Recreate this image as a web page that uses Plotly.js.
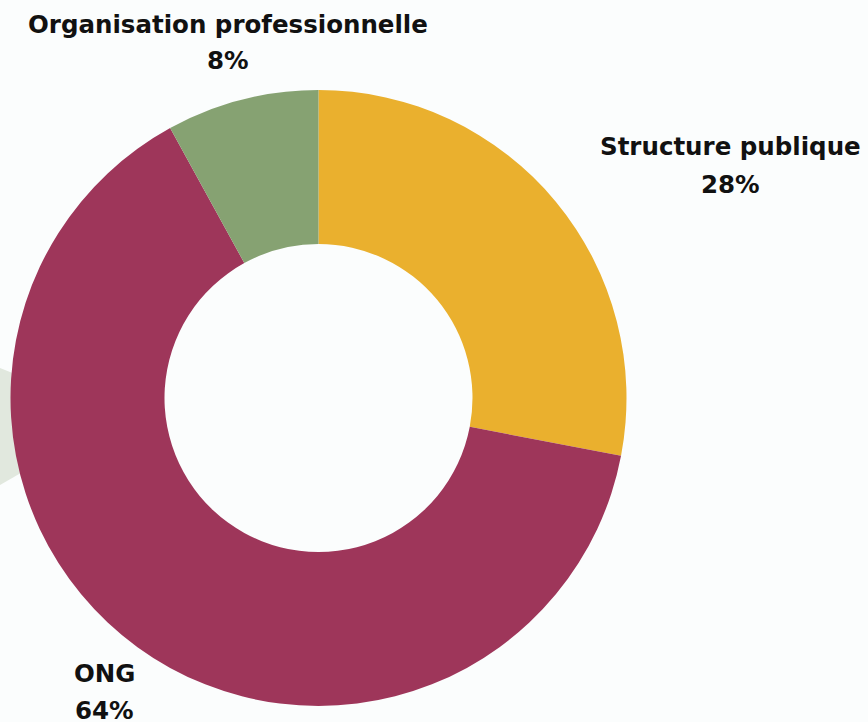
<!DOCTYPE html>
<html>
<head>
<meta charset="utf-8">
<script src="https://cdn.plot.ly/plotly-3.0.1.min.js"></script>
<style>html,body{margin:0;padding:0;background:#fbfdfd;}#chart{width:868px;height:722px;}</style>
</head>
<body>
<div id="chart"></div>
<script>
const categories = ["Structure publique", "ONG", "Organisation professionnelle"];
const values = [28, 64, 8];
const colors = ["#eab02e", "#9e365a", "#86a272"];

const W = 868, H = 722;
const px = x => x / W;
const py = y => 1 - y / H;

// label positions (pixel centres) for each category: [x, nameY, pctY]
const labelPos = [[730, 146, 184], [104, 673, 710], [228, 24, 61]];

const FONT = {family: '"DejaVu Sans", sans-serif', size: 24.5, color: '#111'};
const annotations = [];
categories.forEach((c, i) => {
  const p = labelPos[i];
  annotations.push({xref: 'paper', yref: 'paper', x: px(p[0]), y: py(p[1]), xanchor: 'center', yanchor: 'middle',
    text: '<b>' + c + '</b>', showarrow: false, font: FONT});
  annotations.push({xref: 'paper', yref: 'paper', x: px(p[0]), y: py(p[2]), xanchor: 'center', yanchor: 'middle',
    text: '<b>' + values[i] + '%</b>', showarrow: false, font: FONT});
});

const data = [{
  type: 'pie',
  labels: categories,
  values: values,
  marker: {colors: colors, line: {width: 0}},
  hole: 0.5,
  sort: false,
  direction: 'clockwise',
  rotation: 0,
  textinfo: 'none',
  hoverinfo: 'label+percent',
  domain: {x: [px(10.5), px(626.5)], y: [py(706), py(90)]},
  showlegend: false
}];

const layout = {
  width: W, height: H,
  margin: {l: 0, r: 0, t: 0, b: 0},
  paper_bgcolor: '#fbfdfd',
  plot_bgcolor: '#fbfdfd',
  showlegend: false,
  annotations: annotations,
  shapes: [{
    type: 'path', xref: 'paper', yref: 'paper', layer: 'below',
    path: `M ${px(0)} ${py(368)} L ${px(40)} ${py(384)} L ${px(40)} ${py(462)} L ${px(0)} ${py(485)} Z`,
    fillcolor: '#e1e8de', line: {width: 0}
  }]
};

Plotly.newPlot('chart', data, layout, {displayModeBar: false, staticPlot: true});
</script>
</body>
</html>
